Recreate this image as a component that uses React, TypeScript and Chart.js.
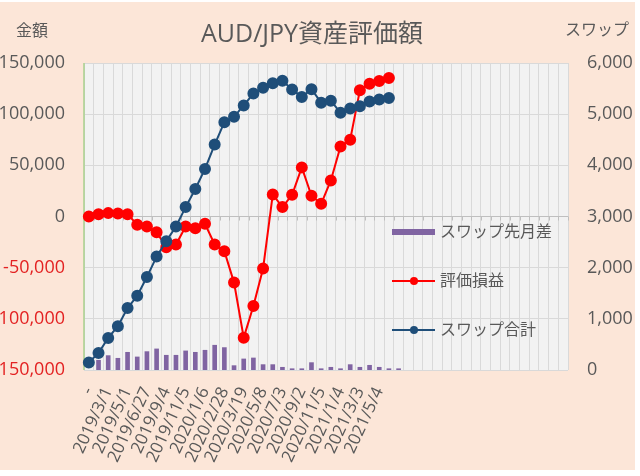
import Chart from "chart.js/auto";
import { useEffect, useRef } from "react";

// rows shown on the category axis (every 2nd category carries a date)
const dateLabels = [
  "-", "2019/3/1", "2019/5/1", "2019/6/27", "2019/9/4", "2019/11/5", "2020/1/6", "2020/2/28",
  "2020/3/19", "2020/5/8", "2020/7/3", "2020/9/2", "2020/11/5", "2021/1/4", "2021/3/3", "2021/5/4",
];
const categoryCount = 50;

// 評価損益 (left axis, yen)
const pnl = [
  0, 2300, 3300, 2900, 2300, -8100, -9800, -15300, -30000, -27400, -9800, -11400, -7100, -27400,
  -33900, -64600, -118400, -87400, -50900, 21500, 9200, 21200, 48000, 20300, 12400, 35200, 68500,
  75000, 123300, 129800, 132500, 135400,
];

// スワップ合計 (right axis)
const swapTotal = [
  145, 333, 627, 857, 1210, 1451, 1818, 2216, 2518, 2804, 3184, 3537, 3929, 4406, 4843, 4949, 5171,
  5402, 5514, 5602, 5655, 5484, 5337, 5488, 5224, 5263, 5027, 5112, 5157, 5249, 5288, 5314,
];

// スワップ先月差 (right axis)
const swapDiff = [
  null, 190, 281, 229, 346, 255, 359, 412, 288, 288, 373, 346, 386, 484, 438, 85, 216, 235, 105,
  105, 53, 25, 25, 144, 25, 53, 25, 105, 53, 92, 53, 25, 25,
];

const FONT = "'Open Sans', 'Noto Sans CJK JP', sans-serif";
const GRAY = "#595959";
const RED = "#FF0000";
const NAVY = "#1F4E79";
const PURPLE = "#8064A2";

const labels: string[] = [];
for (let i = 0; i < categoryCount; i++) {
  labels.push(i % 2 === 0 && dateLabels[i / 2] ? dateLabels[i / 2] : "");
}

const decorPlugin = {
  id: "decor",
  beforeDraw(chart: any) {
    const { ctx, chartArea: a } = chart;
    ctx.save();
    ctx.fillStyle = "#ffffff";
    ctx.fillRect(0, 0, chart.width, chart.height);
    ctx.fillStyle = "#FCE6D8";
    ctx.fillRect(0, 2, 635, 468);
    ctx.fillStyle = "#F2F2F2";
    ctx.fillRect(a.left, a.top, a.right - a.left, a.bottom - a.top);
    ctx.restore();
  },
  beforeDatasetsDraw(chart: any) {
    const { ctx, chartArea: a } = chart;
    const y0 = chart.scales.y.getPixelForValue(0);
    const step = (a.right - a.left) / categoryCount;
    ctx.save();
    ctx.strokeStyle = "#BFBFBF";
    ctx.lineWidth = 1;
    ctx.beginPath();
    ctx.moveTo(a.left, y0);
    ctx.lineTo(a.right, y0);
    for (let i = 0; i <= categoryCount; i++) {
      const x = Math.round(a.left + i * step) + 0.5;
      ctx.moveTo(x, y0);
      ctx.lineTo(x, y0 + 4);
    }
    ctx.stroke();
    // left axis line
    ctx.strokeStyle = "#A9D08E";
    ctx.lineWidth = 1.5;
    ctx.beginPath();
    ctx.moveTo(a.left, a.top);
    ctx.lineTo(a.left, a.bottom);
    ctx.stroke();
    ctx.restore();
  },
  afterDraw(chart: any) {
    const { ctx } = chart;
    ctx.save();
    ctx.fillStyle = GRAY;
    ctx.textBaseline = "middle";
    ctx.textAlign = "center";
    ctx.font = `25px ${FONT}`;
    ctx.fillText("AUD/JPY資産評価額", 312, 35);
    ctx.font = `16px ${FONT}`;
    ctx.fillText("金額", 32, 31);
    ctx.fillText("スワップ", 597, 30);

    // legend
    ctx.textAlign = "left";
    ctx.fillStyle = PURPLE;
    ctx.fillRect(392, 229, 43, 6);
    const rows = [
      { y: 281, color: RED },
      { y: 330, color: NAVY },
    ];
    rows.forEach((r) => {
      ctx.strokeStyle = r.color;
      ctx.lineWidth = 2;
      ctx.beginPath();
      ctx.moveTo(392, r.y);
      ctx.lineTo(435, r.y);
      ctx.stroke();
      ctx.fillStyle = r.color;
      ctx.beginPath();
      ctx.arc(414, r.y, 4, 0, Math.PI * 2);
      ctx.fill();
    });
    ctx.fillStyle = GRAY;
    ctx.font = `16px ${FONT}`;
    ctx.fillText("スワップ先月差", 440, 232);
    ctx.fillText("評価損益", 440, 281);
    ctx.fillText("スワップ合計", 440, 330);
    ctx.restore();
  },
};

const App: React.FC = () => {
  const chartRef = useRef<HTMLCanvasElement | null>(null);

  useEffect(() => {
    if (!chartRef.current) return;
    const ctx = chartRef.current.getContext("2d");
    if (!ctx) return;

    const myChart = new Chart(ctx, {
      type: "bar",
      data: {
        labels: labels,
        datasets: [
          {
            type: "line",
            label: "スワップ合計",
            data: swapTotal,
            yAxisID: "y1",
            borderColor: NAVY,
            backgroundColor: NAVY,
            pointBackgroundColor: NAVY,
            pointBorderColor: NAVY,
            pointRadius: 5,
            borderWidth: 2,
            order: 0,
          },
          {
            type: "line",
            label: "評価損益",
            data: pnl,
            yAxisID: "y",
            borderColor: RED,
            backgroundColor: RED,
            pointBackgroundColor: RED,
            pointBorderColor: RED,
            pointRadius: 5,
            borderWidth: 2,
            order: 1,
          },
          {
            type: "bar",
            label: "スワップ先月差",
            data: swapDiff,
            yAxisID: "y1",
            backgroundColor: PURPLE,
            barThickness: 4,
            order: 2,
          },
        ],
      } as any,
      options: {
        responsive: false,
        animation: false,
        layout: { padding: { top: 63, left: 0, right: 0, bottom: 0 } },
        plugins: {
          legend: { display: false },
          title: { display: false },
          tooltip: { enabled: false },
        },
        scales: {
          x: {
            offset: true,
            grid: { color: "#D9D9D9", offset: true, drawTicks: false },
            border: { display: false },
            ticks: {
              autoSkip: false,
              maxRotation: 65,
              minRotation: 65,
              padding: 14,
              color: GRAY,
              font: { family: FONT, size: 17 },
            },
            afterFit: (scale: any) => {
              scale.height = 106;
            },
          },
          y: {
            position: "left",
            min: -150000,
            max: 150000,
            grid: { color: "#D9D9D9", drawTicks: false },
            border: { display: false },
            ticks: {
              stepSize: 50000,
              padding: 19,
              color: (c: any) => (c.tick && c.tick.value < 0 ? "#E32222" : GRAY),
              font: { family: FONT, size: 18 },
              callback: (v: any) => Number(v).toLocaleString("en-US"),
            },
            afterFit: (scale: any) => {
              scale.width = 84;
            },
          },
          y1: {
            position: "right",
            min: 0,
            max: 6000,
            grid: { display: false, drawTicks: false },
            border: { display: false },
            ticks: {
              stepSize: 1000,
              padding: 19,
              color: GRAY,
              font: { family: FONT, size: 18 },
              callback: (v: any) => Number(v).toLocaleString("en-US"),
            },
            afterFit: (scale: any) => {
              scale.width = 72;
            },
          },
        },
      },
      plugins: [decorPlugin],
    });
    return () => myChart.destroy();
  }, []);

  return (
    <div style={{ position: "fixed", left: 0, top: 0, width: 640, height: 476 }}>
      <canvas ref={chartRef} width="640" height="476" />
    </div>
  );
};

export default App;
